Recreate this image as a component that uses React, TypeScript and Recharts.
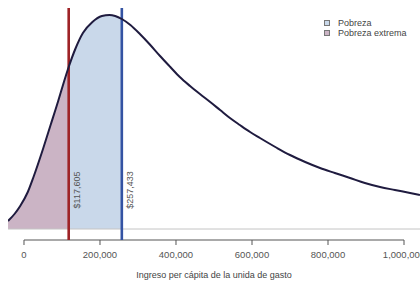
import React from 'react';
import { ComposedChart, Area, Line, XAxis, YAxis, ReferenceLine, Legend } from 'recharts';

// densidad del ingreso (unidades relativas)
const ingresos = [
  -42000, -25000, -10000, 10000, 25000, 50000, 70000, 90000, 105000, 117605,
  135000, 155000, 180000, 205000, 225000, 240000, 257433, 280000, 305000, 330000,
  358000, 385000, 410000, 437000, 463000, 490000, 516000, 542000, 568000, 595000,
  621000, 666000, 700000, 740000, 779000, 818000, 858000, 897000, 937000, 976000,
  1016000, 1042000,
];
const densidad = [
  8, 15, 23, 37, 52, 80, 104, 128, 147, 162,
  180, 196, 207, 213, 214, 213, 210, 204, 195, 185,
  173, 162, 152, 143, 135, 127, 119, 111, 104, 97,
  91, 81, 74, 67, 61, 56, 51, 46, 42, 39,
  36, 34,
];
const lineaExtrema = 117605;
const lineaPobreza = 257433;
const xTicks = [0, 200000, 400000, 600000, 800000, 1000000];

const FONT = '"Liberation Sans", Arial, sans-serif';
const COLOR_EXTREMA = '#cbb4c5';
const COLOR_POBREZA = '#c9d8ea';

const data = ingresos.map((ingreso, i) => ({
  ingreso,
  densidad: densidad[i],
  extrema: ingreso <= lineaExtrema ? densidad[i] : null,
  pobreza: ingreso >= lineaExtrema && ingreso <= lineaPobreza ? densidad[i] : null,
}));

const fmt = (v: number) => v.toLocaleString('en-US');

// etiqueta vertical junto a cada línea de pobreza
const LineTag = ({ viewBox, text }: any) => {
  if (!viewBox) return null;
  const x = viewBox.x + 8;
  const y = viewBox.y + 182;
  return (
    <text
      x={x}
      y={y}
      transform={`rotate(-90 ${x} ${y})`}
      textAnchor="middle"
      dominantBaseline="central"
      fontSize={9}
      fontFamily={FONT}
      fill="#555"
    >
      {text}
    </text>
  );
};

const LegendBox = ({ payload }: any) => (
  <div style={{ fontFamily: FONT, fontSize: 9, color: '#444' }}>
    {(payload || [])
      .filter((p: any) => p.type !== 'none' && p.dataKey !== 'densidad')
      .map((p: any) => (
        <div key={p.value} style={{ display: 'flex', alignItems: 'center', height: 10 }}>
          <span
            style={{
              display: 'inline-block',
              width: 4,
              height: 4,
              border: '1px solid #777',
              background: p.color,
              marginRight: 8,
            }}
          />
          <span>{p.value}</span>
        </div>
      ))}
  </div>
);

export default function App() {
  return (
    <div style={{ position: 'absolute', left: 0, top: 0, width: 420, height: 289, background: '#fff' }}>
      <ComposedChart width={420} height={289} data={data} margin={{ top: 8, right: 0, left: 8, bottom: 19 }}>
        <XAxis
          dataKey="ingreso"
          type="number"
          domain={[-42100, 1042100]}
          allowDataOverflow
          ticks={xTicks}
          interval={0}
          tickFormatter={fmt}
          axisLine={false}
          tickLine={{ stroke: '#555' }}
          tickSize={5}
          tickMargin={6}
          height={30}
          tick={{ fontSize: 9.5, fontFamily: FONT, fill: '#555' }}
          label={{
            value: 'Ingreso per cápita de la unida de gasto',
            position: 'bottom',
            offset: 2,
            fontSize: 9,
            fontFamily: FONT,
            fill: '#444',
          }}
        />
        <YAxis hide type="number" domain={[-11, 221]} allowDataOverflow />
        <Legend
          layout="horizontal"
          verticalAlign="middle"
          align="center"
          wrapperStyle={{ top: 18, left: 324, width: 100 }}
          content={<LegendBox />}
        />
        <Area
          name="Pobreza"
          dataKey="pobreza"
          type="monotone"
          stroke="none"
          fill={COLOR_POBREZA}
          fillOpacity={1}
          baseValue={0}
          isAnimationActive={false}
        />
        <Area
          name="Pobreza extrema"
          dataKey="extrema"
          type="monotone"
          stroke="none"
          fill={COLOR_EXTREMA}
          fillOpacity={1}
          baseValue={0}
          isAnimationActive={false}
        />
        <ReferenceLine y={0} stroke="#c4c4c4" strokeWidth={1} />
        <ReferenceLine
          segment={[{ x: 0, y: -11 }, { x: 1000000, y: -11 }]}
          stroke="#555"
          strokeWidth={1}
        />
        <ReferenceLine
          x={lineaExtrema}
          stroke="#9e2327"
          strokeWidth={2.6}
          label={<LineTag text={'$' + fmt(lineaExtrema)} />}
        />
        <ReferenceLine
          x={lineaPobreza}
          stroke="#3453a3"
          strokeWidth={2.6}
          label={<LineTag text={'$' + fmt(lineaPobreza)} />}
        />
        <Line
          dataKey="densidad"
          type="monotone"
          stroke="#1f1b3f"
          strokeWidth={2}
          dot={false}
          legendType="none"
          isAnimationActive={false}
        />
      </ComposedChart>
    </div>
  );
}
